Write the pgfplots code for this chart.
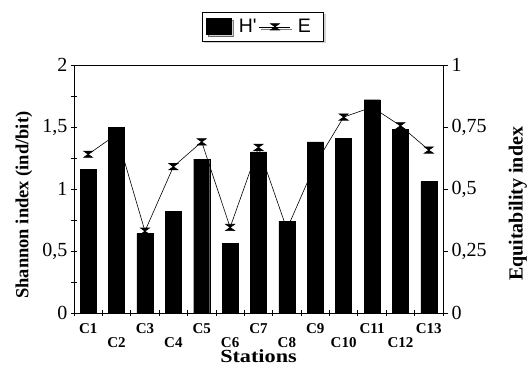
\documentclass[border=0pt]{standalone}
\usepackage{pgfplots}
\pgfplotsset{compat=1.18}
\usepackage{fontspec}
\setmainfont{Liberation Serif}
\newfontfamily\arial{Liberation Sans}
\usetikzlibrary{shadows}

\pgfdeclareplotmark{hourglass}{%
  \pgfpathmoveto{\pgfqpoint{-\pgfplotmarksize}{0.7\pgfplotmarksize}}%
  \pgfpathlineto{\pgfqpoint{\pgfplotmarksize}{0.7\pgfplotmarksize}}%
  \pgfpathlineto{\pgfqpoint{-\pgfplotmarksize}{-0.7\pgfplotmarksize}}%
  \pgfpathlineto{\pgfqpoint{\pgfplotmarksize}{-0.7\pgfplotmarksize}}%
  \pgfpathclose
  \pgfusepathqfillstroke}

\begin{document}
\begin{tikzpicture}
\path[use as bounding box] (0pt,0pt) rectangle (529pt,364pt);
% Right axis: equitability
\begin{axis}[
  at={(74pt,51pt)}, anchor=south west, scale only axis,
  width=369pt, height=248pt,
  xmin=0.5, xmax=13.5, ymin=0, ymax=1,
  axis x line=none, axis y line*=right,
  axis line style={line width=0.8pt},
  ytick={0,0.25,0.5,0.75,1},
  yticklabels={0,{0,25},{0,5},{0,75},1},
  tick align=outside, major tick length=5pt,
  tick style={line width=0.8pt, black},
  yticklabel style={font=\fontsize{20}{20}\selectfont},
  /pgf/number format/assume math mode=true,
  ylabel={\bfseries Equitability index},
  every axis y label/.style={at={(axis description cs:1.203,0.44)}, rotate=90, anchor=center, font=\fontsize{20}{20}\selectfont},
]
\addplot[black, line width=0.6pt, mark=hourglass, mark size=4.5pt, mark options={solid, fill=black}]
coordinates {(1,0.64) (2,0.72) (3,0.33) (4,0.59) (5,0.69) (6,0.345) (7,0.668) (8,0.338) (9,0.60) (10,0.79) (11,0.83) (12,0.755) (13,0.657)};
\end{axis}
% Left axis: Shannon index bars
\begin{axis}[
  at={(74pt,51pt)}, anchor=south west, scale only axis,
  width=369pt, height=248pt,
  xmin=0.5, xmax=13.5, ymin=0, ymax=2,
  axis line style={line width=0.8pt},
  ytick pos=left, xtick pos=bottom,
  tick style={line width=0.8pt, black},
  tick align=center, major tick length=6pt, minor tick length=6pt,
  ytick={0,0.5,1,1.5,2}, yticklabels={0,{0,5},1,{1,5},2},
  minor ytick={0.25,0.75,1.25,1.75},
  yticklabel style={font=\fontsize{20}{20}\selectfont},
  xtick={1,...,13},
  major x tick style={draw=none},
  minor xtick={0.5,1.5,...,13.5},
  xticklabels={C1,\raisebox{-14pt}{C2},C3,\raisebox{-14pt}{C4},C5,\raisebox{-14pt}{C6},C7,\raisebox{-14pt}{C8},C9,\raisebox{-14pt}{C10},C11,\raisebox{-14pt}{C12},C13},
  xticklabel style={font=\bfseries\fontsize{15}{15}\selectfont, anchor=base, yshift=-17pt, inner sep=0.5pt},
  /pgf/number format/assume math mode=true,
  xlabel={\scalebox{1.2}[1]{\bfseries Stations}},
  every axis x label/.style={at={(axis description cs:0.5,-0.173)}, anchor=center, inner sep=0pt, font=\fontsize{18.5}{18.5}\selectfont},
  ylabel={\bfseries Shannon index (ind/bit)},
  every axis y label/.style={at={(axis description cs:-0.1355,0.435)}, rotate=90, anchor=center, font=\fontsize{18.5}{18.5}\selectfont},
  legend style={at={(axis description cs:0.512,1.154)}, anchor=center, draw=black, line width=0.8pt,
    drop shadow={shadow xshift=2pt, shadow yshift=-2pt, fill=gray!70},
    font=\arial\fontsize{19.5}{19.5}\selectfont, legend columns=2,
    inner xsep=4pt, inner ysep=5pt,
    nodes={inner xsep=1pt},
    /tikz/every odd column/.style={column sep=6pt},
    /tikz/every even column/.style={column sep=1.5pt}},
]
\addplot[ybar, bar width=16pt, fill=black, draw=black, bar shift=0pt,
  legend image code/.code={\fill[black] (0pt,-8pt) rectangle (25pt,8pt);}]
coordinates {(1,1.16) (2,1.50) (3,0.64) (4,0.82) (5,1.24) (6,0.56) (7,1.30) (8,0.74) (9,1.38) (10,1.41) (11,1.72) (12,1.48) (13,1.06)};
\addlegendentry{H'}
\addlegendimage{black, line width=0.6pt,
  legend image code/.code={\draw[black, line width=0.6pt] (0pt,0pt) -- (31pt,0pt); \draw[black, line width=0.6pt] plot[mark=hourglass, mark size=4.5pt, mark options={solid, fill=black}] coordinates {(15.5pt,0pt)};}}
\addlegendentry{E\hspace*{8pt}}
\end{axis}
\end{tikzpicture}
\end{document}
